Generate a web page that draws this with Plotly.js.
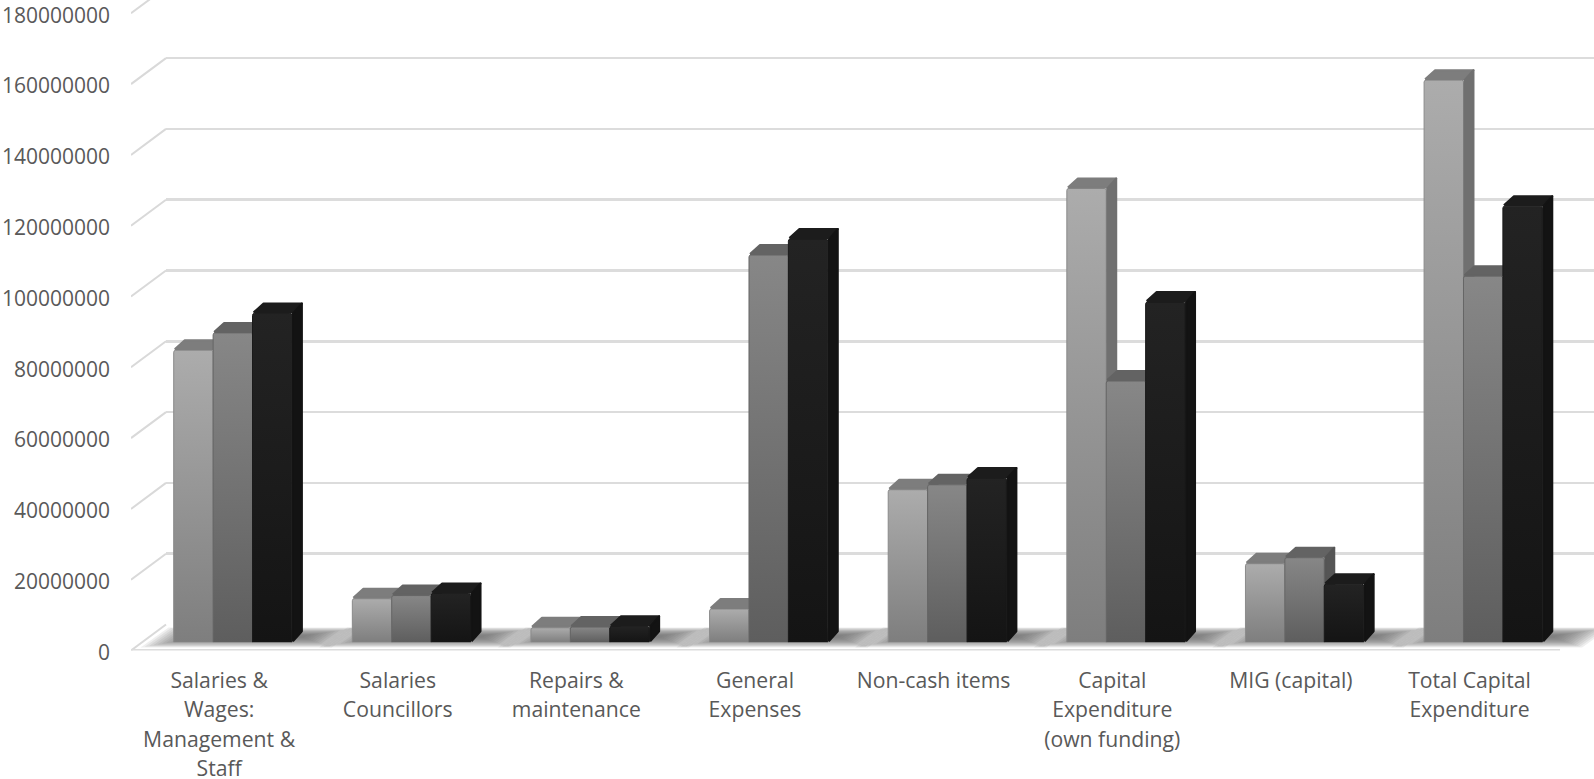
<!DOCTYPE html>
<html><head><meta charset="utf-8">
<script src="https://cdn.plot.ly/plotly-3.0.1.min.js"></script>
<style>html,body{margin:0;padding:0;background:#fff;overflow:hidden}</style>
</head><body><div id="chart" style="width:1594px;height:779px"></div>
<script>
const categories = [
  "Salaries &<br>Wages:<br>Management &<br>Staff",
  "Salaries<br>Councillors",
  "Repairs &<br>maintenance",
  "General<br>Expenses",
  "Non-cash items",
  "Capital<br>Expenditure<br>(own funding)",
  "MIG (capital)",
  "Total Capital<br>Expenditure"
];
const seriesA = [82500000, 12300000, 4100000, 9400000, 43100000, 128200000, 22200000, 158800000];
const seriesB = [87400000, 13200000, 4300000, 109400000, 44500000, 73800000, 23900000, 103400000];
const seriesC = [92900000, 13800000, 4500000, 113900000, 46400000, 96100000, 16400000, 123200000];
const yTicks = [0,20000000,40000000,60000000,80000000,100000000,120000000,140000000,160000000,180000000];

const W=1594,H=779, PXV=70.8/20000000;
const FX0=131,FX1=1560,FY=650.5,BY=624.5,BDX=35,BDY=26,BARY=642.3,BARDX=12.5;
const CAT=(FX1-FX0)/8, BW=39.4, SDX=11/CAT, SDY=11/PXV, w=BW/CAT, PX=1/CAT, PY=1/PXV;
const xs=categories.map((_,i)=>i+0.5);
const yRange=p=>[0,p/PXV];
const font={family:'"Open Sans",sans-serif',size:22.6,color:'#595959'};
const lab=s=>s.split('<br>').map(t=>'<span style="font-size:21.2px">'+t+'</span>').join('<br>');

const traces=[];
traces.push({type:'scatter',x:[0],y:[0],xaxis:'x',yaxis:'y',mode:'none',showlegend:false,hoverinfo:'skip'});
const dx=[],dy=[];
yTicks.forEach(t=>{dx.push(0,BDX/CAT,null);dy.push(t,t+BDY/PXV,null);});
traces.push({type:'scatter',x:dx,y:dy,xaxis:'x2',yaxis:'y2',mode:'lines',cliponaxis:false,
  line:{color:'#d9d9d9',width:2},showlegend:false,hoverinfo:'skip'});
// soft floor shadow: nested translucent layers sharing one slant
const layers=[0,1,2,3,4,5,6,7,8,9,10,11,12,13];
xs.forEach(c=>{
  layers.forEach(n=>{
    const yb=3+n*0.75, yt=23-n*0.6;
    const l=c-0.47+n*3.2*PX, r=c+0.60-n*3.2*PX;
    const xp=[l+yb*1.4*PX,l+yt*1.4*PX,r+yt*1.4*PX,r+yb*1.4*PX,l+yb*1.4*PX];
    const yp=[yb*PY,yt*PY,yt*PY,yb*PY,yb*PY];
    traces.push({type:'scatter',x:xp,y:yp,xaxis:'x2',yaxis:'y2',mode:'none',fill:'toself',cliponaxis:false,
      fillcolor:'rgba(100,100,100,0.1)',showlegend:false,hoverinfo:'skip'});
  });
});
// floor front edge
traces.push({type:'scatter',x:[0,8],y:[0,0],xaxis:'x2',yaxis:'y2',mode:'lines',cliponaxis:false,
  line:{color:'#dcdcdc',width:3},showlegend:false,hoverinfo:'skip'});
const sets=[
 {v:seriesA,name:'A',ax:'3',i:0,line:'#8a8a8a',side:'#707070',top:'#7d7d7d'},
 {v:seriesB,name:'B',ax:'4',i:1,line:'#666666',side:'#555555',top:'#636363'},
 {v:seriesC,name:'C',ax:'5',i:2,line:'#1a1a1a',side:'#131313',top:'#1c1c1c'}
];
sets.forEach(s=>{
  const off=-1.5*w+s.i*w;
  traces.push({type:'bar',x:xs,y:s.v,xaxis:'x'+s.ax,yaxis:'y'+s.ax,name:s.name,width:w,offset:off,
    marker:{color:s.line,line:{color:s.line,width:1},cornerradius:2},showlegend:false,hoverinfo:'skip'});
  xs.forEach((c,k)=>{
    const x0=c+off,x1=x0+w,v=s.v[k];
    traces.push({type:'scatter',x:[x0+PX,x0+SDX,x1+SDX-PX,x1,x0+PX],y:[v+PY,v+SDY-PY,v+SDY-PY,v+PY,v+PY],xaxis:'x'+s.ax,yaxis:'y'+s.ax,
      mode:'lines',line:{color:s.top,width:2},fill:'toself',fillcolor:s.top,showlegend:false,hoverinfo:'skip'});
    traces.push({type:'scatter',x:[x1+PX,x1+SDX-PX,x1+SDX-PX,x1+PX,x1+PX],y:[PY,SDY,v+SDY-PY,v,PY],xaxis:'x'+s.ax,yaxis:'y'+s.ax,
      mode:'lines',line:{color:s.side,width:2},fill:'toself',fillcolor:s.side,showlegend:false,hoverinfo:'skip'});
  });
});
const hidden=(d,r)=>({domain:d,range:r,visible:false,fixedrange:true});
const barX=[(FX0+BARDX)/W,(FX1+BARDX)/W], barYd=[(H-BARY)/H,1];
const layout={
  width:W,height:H,margin:{l:0,r:0,t:0,b:0,pad:0},paper_bgcolor:'#fff',plot_bgcolor:'rgba(0,0,0,0)',
  barmode:'overlay',showlegend:false,font:font,
  xaxis:{domain:[(FX0+BDX)/W,1],range:[0,(W-FX0-BDX)/CAT],showgrid:false,zeroline:false,showticklabels:false,ticks:''},
  yaxis:{domain:[(H-BY)/H,1],range:yRange(BY),anchor:'x',tickmode:'array',tickvals:yTicks,showgrid:true,gridcolor:'#dcdcdc',gridwidth:2.5,
    zeroline:false,showticklabels:false,ticks:'',showline:false},
  xaxis2:{domain:[FX0/W,1],range:[0,(W-FX0)/CAT],anchor:'y2',tickmode:'array',tickvals:xs.map(x=>x-1.2*PX),ticktext:categories.map(lab),tickangle:0,
    showgrid:false,zeroline:false,ticks:'',showline:false,tickfont:font,ticklabelstandoff:14,automargin:false,ticklabeloverflow:'allow'},
  yaxis2:{domain:[(H-FY)/H,1],range:yRange(FY),anchor:'x2',tickmode:'array',tickvals:yTicks,ticktext:yTicks.map(String),
    showgrid:false,zeroline:false,ticks:'',showline:false,tickfont:{family:font.family,size:21,color:'#595959'},ticklabelstandoff:20,ticklabelshift:2,automargin:false,ticklabeloverflow:'allow'},
  xaxis3:hidden(barX,[0,8]),yaxis3:Object.assign(hidden(barYd,yRange(BARY)),{anchor:'x3'}),
  xaxis4:hidden(barX,[0,8]),yaxis4:Object.assign(hidden(barYd,yRange(BARY)),{anchor:'x4'}),
  xaxis5:hidden(barX,[0,8]),yaxis5:Object.assign(hidden(barYd,yRange(BARY)),{anchor:'x5'})
};
layout.xaxis3.anchor='y3';layout.xaxis4.anchor='y4';layout.xaxis5.anchor='y5';
const grads=[['#acacac','#7e7e7e'],['#878787','#5e5e5e'],['#232323','#141414']];
Plotly.newPlot('chart',traces,layout,{displayModeBar:false,staticPlot:true}).then(gd=>{
  const svg=gd.querySelector('svg.main-svg');
  const NS='http://www.w3.org/2000/svg';
  const defs=document.createElementNS(NS,'defs');
  grads.forEach((g,i)=>{
    const lg=document.createElementNS(NS,'linearGradient');
    lg.setAttribute('id','barGrad'+i);lg.setAttribute('x1','0');lg.setAttribute('y1','0');lg.setAttribute('x2','0');lg.setAttribute('y2','1');
    g.forEach((c,j)=>{const st=document.createElementNS(NS,'stop');st.setAttribute('offset',j);st.setAttribute('stop-color',c);lg.appendChild(st);});
    defs.appendChild(lg);
  });
  svg.insertBefore(defs,svg.firstChild);
  gd.querySelectorAll('.barlayer .trace').forEach((t,i)=>{
    t.querySelectorAll('path').forEach(p=>{p.style.fill='url(#barGrad'+i+')';});
  });
  gd.querySelectorAll('.scatterlayer .js-line').forEach(p=>{p.style.strokeLinejoin='round';});
});
</script></body></html>
